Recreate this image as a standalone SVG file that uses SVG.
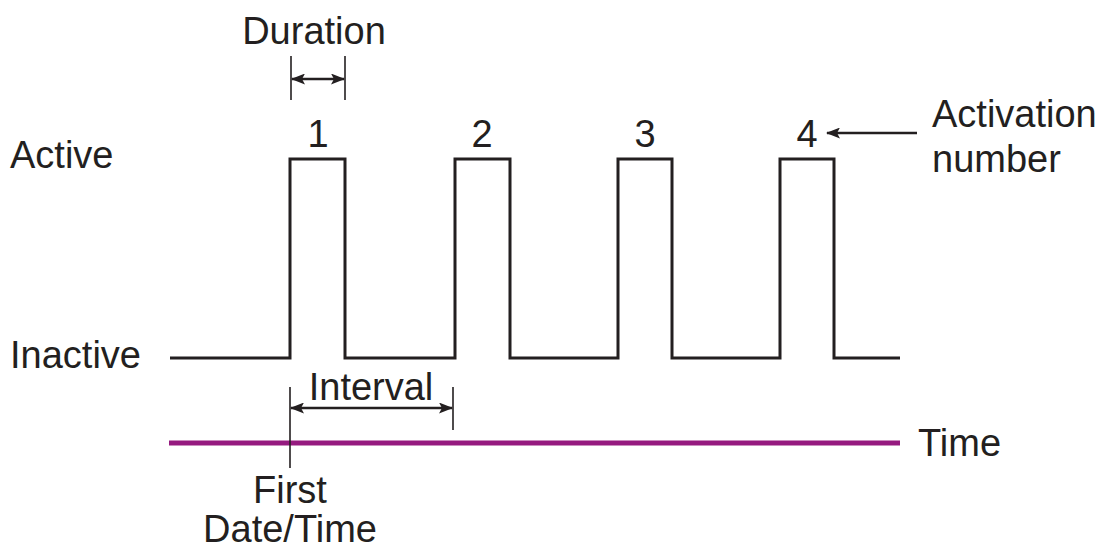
<svg xmlns="http://www.w3.org/2000/svg" width="1100" height="549" viewBox="0 0 1100 549">
<style>
text{font-family:"Liberation Sans",Arial,sans-serif;font-size:38px;fill:#231f20}
.wave{fill:none;stroke:#231f20;stroke-width:3}
.tick{stroke:#231f20;stroke-width:1.6}
.arr{stroke:#231f20;stroke-width:2.5}
</style>
<defs>
<marker id="ah" viewBox="0 0 14 11" refX="13" refY="5.5" markerWidth="14" markerHeight="11" markerUnits="userSpaceOnUse" orient="auto-start-reverse">
<path d="M0,0 L14,5.5 L0,11 L3,5.5 Z" fill="#231f20"/>
</marker>
</defs>
<g id="labels">
<text x="10" y="168">Active</text>
<text x="10" y="368">Inactive</text>
<text x="314" y="44" text-anchor="middle">Duration</text>
<text x="371" y="400" text-anchor="middle">Interval</text>
<text x="918" y="456">Time</text>
<text x="290" y="503" text-anchor="middle">First</text>
<text x="290" y="542" text-anchor="middle">Date/Time</text>
<text x="932" y="127">Activation</text>
<text x="932" y="172">number</text>
</g>
<g id="numbers">
<text x="318" y="147" text-anchor="middle">1</text>
<text x="482" y="147" text-anchor="middle">2</text>
<text x="645" y="147" text-anchor="middle">3</text>
<text x="807" y="147" text-anchor="middle">4</text>
</g>
<g id="waveform">
<path class="wave" d="M170,358 H290 V159 H345 V358 H455 V159 H510 V358 H618 V159 H672 V358 H780 V159 H834 V358 H900"/>
</g>
<g id="timeline">
<line x1="169" y1="443" x2="900" y2="443" stroke="#951a7f" stroke-width="5"/>
</g>
<g id="connectors">
<line class="tick" x1="291" y1="56" x2="291" y2="100"/>
<line class="tick" x1="345" y1="56" x2="345" y2="100"/>
<line class="arr" x1="292" y1="79" x2="344" y2="79" marker-start="url(#ah)" marker-end="url(#ah)"/>
<line class="tick" x1="290" y1="387" x2="290" y2="468"/>
<line class="tick" x1="453" y1="387" x2="453" y2="430"/>
<line class="arr" x1="291" y1="408" x2="452" y2="408" marker-start="url(#ah)" marker-end="url(#ah)"/>
<line class="arr" x1="917" y1="133" x2="827" y2="133" marker-end="url(#ah)"/>
</g>
</svg>
